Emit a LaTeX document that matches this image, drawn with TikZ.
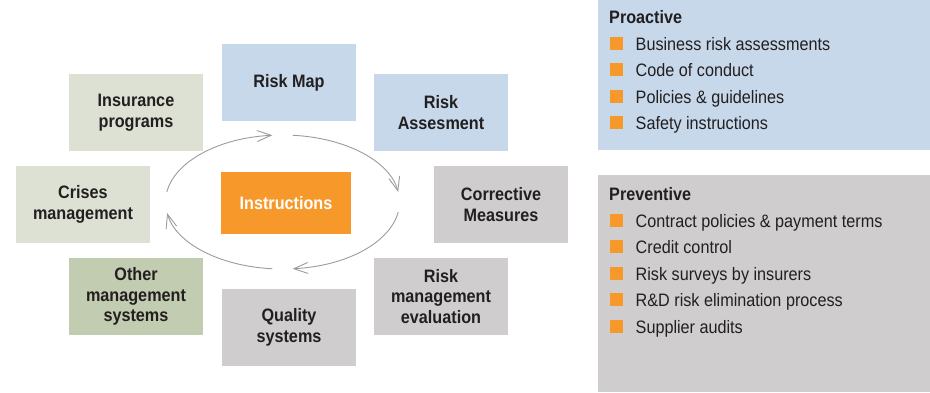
\documentclass[tikz,border=0pt]{standalone}
\usepackage{fontspec}
\setmainfont{Liberation Sans}[FakeStretch=0.9]
\usetikzlibrary{arrows.meta}
\definecolor{cblue}{HTML}{C6D8EA}
\definecolor{cpale}{HTML}{DCE1D3}
\definecolor{csage}{HTML}{C2CCB0}
\definecolor{cgrey}{HTML}{CFCDCE}
\definecolor{corange}{HTML}{F7982A}
\definecolor{ink}{HTML}{231F20}
\definecolor{cline}{HTML}{9B9B9B}
\begin{document}
\begin{tikzpicture}[x=1pt,y=-1pt,
  lbl/.style={rectangle, minimum width=134pt, minimum height=77pt, inner sep=0pt, align=center,
    font=\bfseries\fontsize{18}{20.5}\selectfont, text=ink},
  panel/.style={rectangle, anchor=north west, minimum width=332pt, inner sep=0pt},
  hdr/.style={anchor=base west, inner sep=0pt, font=\bfseries\fontsize{18}{20}\selectfont, text=ink},
  itm/.style={anchor=base west, inner sep=0pt, font=\fontsize{18}{20}\selectfont, text=ink},
  bul/.style={anchor=south west, fill=corange, minimum size=13pt, inner sep=0pt},
  cyc/.style={draw=cline, line width=0.9pt, -{Straight Barb[length=14pt,width=11pt,line width=0.9pt]}}]
\useasboundingbox (0,0) rectangle (930,392);
% cycle boxes
\node[lbl, fill=cblue] (map) at (289,82.5) {Risk Map};
\node[lbl, fill=cblue] (ass) at (441,112.5) {Risk\\Assesment};
\node[lbl, fill=cpale] (ins) at (136,112.5) {Insurance\\programs};
\node[lbl, fill=cpale] (cri) at (83,204.5) {Crises\\management};
\node[lbl, fill=cgrey] (cor) at (501,204.5) {Corrective\\Measures};
\node[lbl, fill=csage] (oth) at (136,296.5) {Other\\management\\systems};
\node[lbl, fill=cgrey] (qua) at (289,327.5) {Quality\\systems};
\node[lbl, fill=cgrey] (rme) at (441,296.5) {Risk\\management\\evaluation};
\node[lbl, fill=corange, text=white, minimum width=130pt, minimum height=62pt] (inst) at (286,203) {Instructions};
% cycle arrows
\coordinate (c) at (282.5,202);
\draw[cyc] ([shift={(171.4:117pt and 67pt)}]c) arc[start angle=171.4, end angle=95, x radius=117pt, y radius=67pt];
\draw[cyc] ([shift={(85:117pt and 67pt)}]c) arc[start angle=85, end angle=8.6, x radius=117pt, y radius=67pt];
\draw[cyc] ([shift={(-8.6:117pt and 67pt)}]c) arc[start angle=-8.6, end angle=-85, x radius=117pt, y radius=67pt];
\draw[cyc] ([shift={(-95:117pt and 67pt)}]c) arc[start angle=-95, end angle=-170.5, x radius=117pt, y radius=67pt];
% panels
\node[panel, fill=cblue, minimum height=150pt] (pro) at (598,0) {};
\node[panel, fill=cgrey, minimum height=217pt] (pre) at (598,175) {};
\node[hdr] (proh) at (609,23) {Proactive};
\node[bul] (pb1) at (609.5,50) {};
\node[itm] (p1) at (635.5,50) {Business risk assessments};
\node[bul] (pb2) at (609.5,76.5) {};
\node[itm] (p2) at (635.5,76.5) {Code of conduct};
\node[bul] (pb3) at (609.5,103) {};
\node[itm] (p3) at (635.5,103) {Policies \& guidelines};
\node[bul] (pb4) at (609.5,129.5) {};
\node[itm] (p4) at (635.5,129.5) {Safety instructions};
\node[hdr] (preh) at (609,200) {Preventive};
\node[bul] (vb1) at (609.5,227) {};
\node[itm] (v1) at (635.5,227) {Contract policies \& payment terms};
\node[bul] (vb2) at (609.5,253.5) {};
\node[itm] (v2) at (635.5,253.5) {Credit control};
\node[bul] (vb3) at (609.5,280) {};
\node[itm] (v3) at (635.5,280) {Risk surveys by insurers};
\node[bul] (vb4) at (609.5,306.5) {};
\node[itm] (v4) at (635.5,306.5) {R\&D risk elimination process};
\node[bul] (vb5) at (609.5,333) {};
\node[itm] (v5) at (635.5,333) {Supplier audits};
\end{tikzpicture}
\end{document}
